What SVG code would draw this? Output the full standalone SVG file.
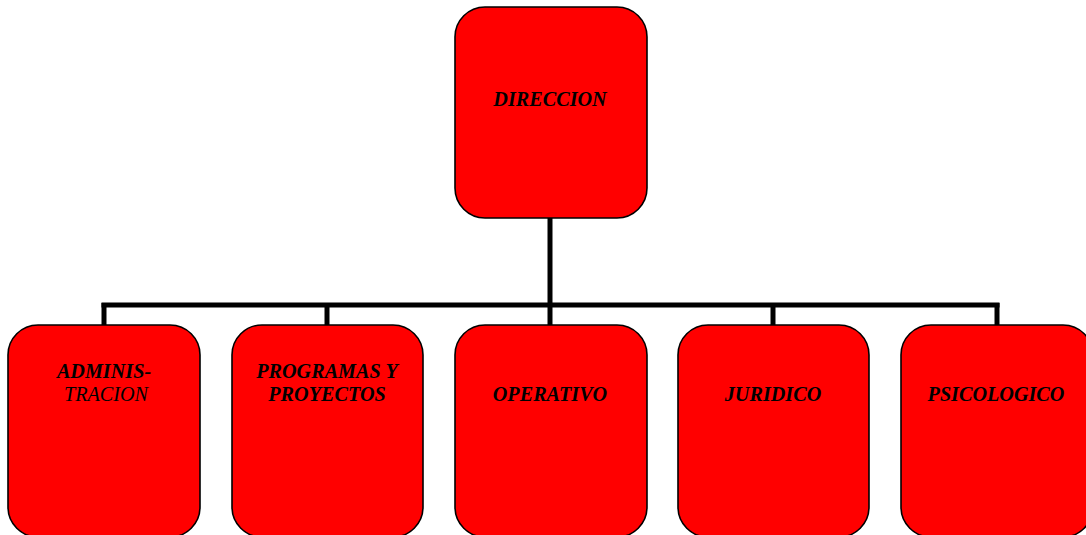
<svg xmlns="http://www.w3.org/2000/svg" width="1086" height="535" viewBox="0 0 1086 535">
<style>
.box{fill:#ff0000;stroke:#000;stroke-width:1.6}
.lbl{font-family:"Liberation Serif","Times New Roman",serif;font-size:20.2px;font-weight:bold;font-style:italic;fill:#000;text-anchor:middle}
.reg{font-weight:normal}
.conn{stroke:#000;stroke-width:5;fill:none}
</style>
<rect width="1086" height="535" fill="#fff"/>
<g id="connectors">
<line class="conn" x1="550" y1="218" x2="550" y2="326"/>
<line class="conn" x1="101.5" y1="305" x2="999.5" y2="305"/>
<line class="conn" x1="104" y1="303" x2="104" y2="326"/>
<line class="conn" x1="327" y1="303" x2="327" y2="326"/>
<line class="conn" x1="773" y1="303" x2="773" y2="326"/>
<line class="conn" x1="997" y1="303" x2="997" y2="326"/>
</g>
<g id="direccion">
<rect class="box" x="455" y="7" width="192" height="211" rx="30" ry="30"/>
<text class="lbl" x="550" y="106">DIRECCION</text>
</g>
<g id="administracion">
<rect class="box" x="8" y="325" width="192" height="212" rx="30" ry="30"/>
<text class="lbl" x="104" y="378">ADMINIS-</text>
<text class="lbl reg" x="106" y="401">TRACION</text>
</g>
<g id="programas">
<rect class="box" x="232" y="325" width="191" height="212" rx="30" ry="30"/>
<text class="lbl" x="327" y="378">PROGRAMAS Y</text>
<text class="lbl" x="327" y="401">PROYECTOS</text>
</g>
<g id="operativo">
<rect class="box" x="455" y="325" width="192" height="212" rx="30" ry="30"/>
<text class="lbl" x="550" y="401">OPERATIVO</text>
</g>
<g id="juridico">
<rect class="box" x="678" y="325" width="191" height="212" rx="30" ry="30"/>
<text class="lbl" x="773" y="401">JURIDICO</text>
</g>
<g id="psicologico">
<rect class="box" x="901" y="325" width="192" height="212" rx="30" ry="30"/>
<text class="lbl" x="996" y="401">PSICOLOGICO</text>
</g>
</svg>
